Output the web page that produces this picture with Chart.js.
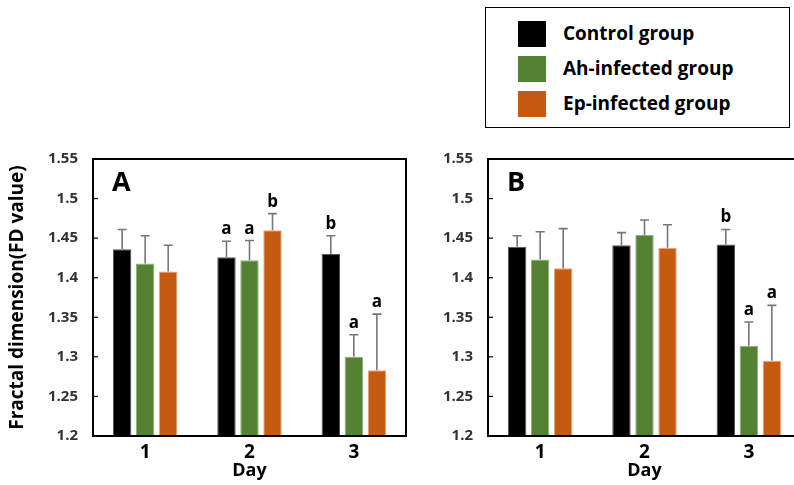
<!DOCTYPE html>
<html>
<head>
<meta charset="utf-8">
<script src="https://cdn.jsdelivr.net/npm/chart.js@4.4.1/dist/chart.umd.min.js"></script>
<style>
  html, body { margin: 0; padding: 0; background: #fff; }
  body { width: 794px; height: 485px; overflow: hidden; position: relative; font-family: "Open Sans", sans-serif; }
  canvas { position: absolute; top: 0; }
  #chartA { left: 0; }
  #chartB { left: 400px; }
  #legend { position: absolute; left: 485px; top: 7px; width: 303px; height: 119px; border: 1.5px solid #000; z-index: 2; background: #fff; }
  .item { position: absolute; left: 32px; height: 26px; }
  .sw { position: absolute; left: 0; top: 0; width: 28px; height: 26px; }
  .lab { position: absolute; left: 45px; top: -2px; font-weight: 700; font-size: 19px; line-height: 28px; white-space: nowrap; color: #000; }
</style>
</head>
<body>
<div id="legend"></div>
<canvas id="chartA" width="420" height="485"></canvas>
<canvas id="chartB" width="420" height="485"></canvas>
<script>
// データ
const days = ['1', '2', '3'];
const groups = ['Control group', 'Ah-infected group', 'Ep-infected group'];

// パネル A
const controlA = [1.436, 1.426, 1.430];
const ahA = [1.418, 1.422, 1.300];
const epA = [1.408, 1.460, 1.283];
const controlErrA = [0.025, 0.020, 0.023];
const ahErrA = [0.035, 0.025, 0.028];
const epErrA = [0.033, 0.021, 0.071];
const controlSigA = ['', 'a', 'b'];
const ahSigA = ['', 'a', 'a'];
const epSigA = ['', 'b', 'a'];

// パネル B
const controlB = [1.439, 1.441, 1.442];
const ahB = [1.423, 1.454, 1.314];
const epB = [1.412, 1.438, 1.295];
const controlErrB = [0.014, 0.016, 0.019];
const ahErrB = [0.035, 0.019, 0.030];
const epErrB = [0.050, 0.029, 0.070];
const controlSigB = ['', '', 'b'];
const ahSigB = ['', '', 'a'];
const epSigB = ['', '', 'a'];

const colors = ['#000000', '#548235', '#C55A11'];
const edgeColors = ['#555555', '#8fb078', '#e8a67a'];
const FONT = '"Open Sans", sans-serif';

// 凡例（HTML）
const legendEl = document.getElementById('legend');
groups.forEach((g, i) => {
    const item = document.createElement('div');
    item.className = 'item';
    item.style.top = (13 + i * 35) + 'px';
    item.innerHTML = `<div class="sw" style="background:${colors[i]}"></div><div class="lab">${g}</div>`;
    legendEl.appendChild(item);
});

// 枠線・内向き目盛・パネル名・エラーバー・有意差記号
const panelPlugin = {
    id: 'panelPlugin',
    afterDatasetsDraw(chart, args, opts) {
        const ctx = chart.ctx;
        const area = chart.chartArea;
        const yScale = chart.scales.y;
        ctx.save();

        // エラーバー
        chart.data.datasets.forEach((ds, i) => {
            const meta = chart.getDatasetMeta(i);
            meta.data.forEach((bar, j) => {
                const top = yScale.getPixelForValue(ds.data[j] + ds.err[j]);
                ctx.strokeStyle = '#777777';
                ctx.lineWidth = 1.6;
                ctx.beginPath();
                ctx.moveTo(bar.x, bar.y);
                ctx.lineTo(bar.x, top);
                ctx.moveTo(bar.x - 4.5, top);
                ctx.lineTo(bar.x + 4.5, top);
                ctx.stroke();

                if (ds.sig[j]) {
                    ctx.fillStyle = '#000';
                    ctx.font = `700 17px ${FONT}`;
                    ctx.textAlign = 'center';
                    ctx.textBaseline = 'alphabetic';
                    ctx.fillText(ds.sig[j], bar.x, top - 7);
                }
            });
        });

        // 枠
        ctx.strokeStyle = '#000';
        ctx.lineWidth = 2;
        ctx.strokeRect(area.left, area.top, area.right - area.left, area.bottom - area.top);

        // 内向き目盛
        ctx.lineWidth = 1.2;
        yScale.ticks.forEach(t => {
            const py = yScale.getPixelForValue(t.value);
            ctx.beginPath();
            ctx.moveTo(area.left, py);
            ctx.lineTo(area.left + 5, py);
            ctx.stroke();
        });

        // パネル名
        ctx.fillStyle = '#000';
        ctx.font = `700 27px ${FONT}`;
        ctx.textAlign = 'left';
        ctx.textBaseline = 'alphabetic';
        ctx.fillText(opts.label, area.left + 19, area.top + 32);
        ctx.restore();
    }
};

function makeDatasets(vals, errs, sigs) {
    return groups.map((g, i) => ({
        label: g,
        data: vals[i],
        err: errs[i],
        sig: sigs[i],
        backgroundColor: colors[i],
        borderColor: edgeColors[i],
        borderWidth: 1,
        categoryPercentage: 0.662,
        barPercentage: 0.8
    }));
}

function renderPanel(canvasId, label, vals, errs, sigs, yWidth, rightPad, showTitle) {
    const ctx = document.getElementById(canvasId).getContext('2d');
    return new Chart(ctx, {
        type: 'bar',
        data: {
            labels: days,
            datasets: makeDatasets(vals, errs, sigs)
        },
        options: {
            responsive: false,
            animation: false,
            layout: { padding: { top: 159, right: rightPad, bottom: 0, left: 0 } },
            plugins: {
                legend: { display: false },
                tooltip: { enabled: false },
                panelPlugin: { label: label }
            },
            scales: {
                x: {
                    grid: { display: false, drawTicks: false },
                    border: { display: false },
                    ticks: {
                        color: '#000',
                        padding: 5,
                        font: { family: FONT, size: 19, weight: '700' }
                    },
                    title: {
                        display: true,
                        text: 'Day',
                        color: '#000',
                        padding: { top: 0, bottom: 3 },
                        font: { family: FONT, size: 18, weight: '700' }
                    },
                    afterFit: (s) => { s.height = 49; }
                },
                y: {
                    min: 1.2,
                    max: 1.55,
                    grid: { display: false, drawTicks: false },
                    border: { display: false },
                    ticks: {
                        stepSize: 0.05,
                        color: '#333333',
                        padding: 15,
                        font: { family: FONT, size: 15, weight: '700' },
                        callback: (v) => String(Math.round(v * 100) / 100)
                    },
                    title: {
                        display: showTitle,
                        text: 'Fractal dimension(FD value)',
                        color: '#000',
                        padding: { top: 6, bottom: 0 },
                        font: { family: FONT, size: 19, weight: '700' }
                    },
                    afterFit: (s) => { s.width = yWidth; }
                }
            }
        },
        plugins: [panelPlugin]
    });
}

renderPanel('chartA', 'A',
    [controlA, ahA, epA], [controlErrA, ahErrA, epErrA], [controlSigA, ahSigA, epSigA],
    93, 14, true);
renderPanel('chartB', 'B',
    [controlB, ahB, epB], [controlErrB, ahErrB, epErrB], [controlSigB, ahSigB, epSigB],
    88, 19, false);
</script>
</body>
</html>
